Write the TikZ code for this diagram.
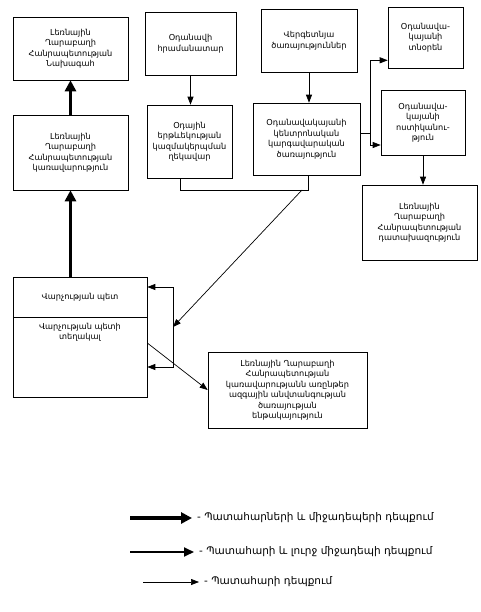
\documentclass[tikz,border=0pt]{standalone}
\usepackage{fontspec}
\setmainfont[Script=Armenian]{DejaVu Sans}
\usetikzlibrary{arrows.meta}

\tikzset{
    box/.style={draw, line width=0.6pt, align=center, inner sep=2pt,
        font=\fontsize{8.2}{10.5}\selectfont},
    legendtext/.style={anchor=west, inner sep=0pt, font=\fontsize{10.5}{12}\selectfont},
    thickarrow/.style={line width=3.5pt, -{Triangle[length=11pt,width=11pt]}},
    midarrow/.style={line width=1.8pt, -{Triangle[length=10pt,width=9pt]}},
    thinarrow/.style={line width=0.7pt, -{Triangle[length=8pt,width=6pt]}}
}

\begin{document}
\begin{tikzpicture}[x=1pt, y=-1pt]

    \useasboundingbox (0,0) rectangle (480,612);

    %% Top row

    % President
    \node [box, minimum width=115, minimum height=63] (president) at (70.5,48.5)
        {Լեռնային\\Ղարաբաղի\\Հանրապետության\\Նախագահ};

    % Commander
    \node [box, minimum width=91, minimum height=63] (commander) at (190.5,43.5)
        {Օդանավի\\հրամանատար};

    % Ground services
    \node [box, minimum width=96, minimum height=63] (ground) at (309,40.5)
        {Վերգետնյա\\ծառայություններ};

    % Airport director
    \node [box, minimum width=75, minimum height=61] (director) at (425.5,37.5)
        {Օդանավա-\\կայանի\\տնօրեն};

    %% Second row

    % Government
    \node [box, minimum width=115, minimum height=75] (government) at (70.5,152.5)
        {Լեռնային\\Ղարաբաղի\\Հանրապետության\\կառավարություն};

    % Air traffic
    \node [box, minimum width=85, minimum height=73] (traffic) at (189.5,141.5)
        {Օդային\\երթևեկության\\կազմակերպման\\ղեկավար};

    % Dispatch
    \node [box, minimum width=107, minimum height=72] (dispatch) at (306.5,139)
        {Օդանավակայանի\\կենտրոնական\\կարգավարական\\ծառայություն};

    % Police
    \node [box, minimum width=84, minimum height=65] (police) at (423,122.5)
        {Օդանավա-\\կայանի\\ոստիկանու-\\թյուն};

    % Prosecutor
    \node [box, minimum width=115, minimum height=75] (prosecutor) at (419.5,222.5)
        {Լեռնային\\Ղարաբաղի\\Հանրապետության\\դատախազություն};

    %% Administration

    \node [box, minimum width=134, minimum height=40] (head) at (80,297)
        {Վարչության պետ};
    \node [box, minimum width=134, minimum height=80] (deputy) at (80,357) {};
    \node [box, draw=none, anchor=north] (deputytext) at ([yshift=-4pt]deputy.north)
        {Վարչության պետի\\տեղակալ};

    % Security
    \node [box, minimum width=159, minimum height=76] (security) at (287.5,390)
        {Լեռնային Ղարաբաղի\\Հանրապետության\\կառավարությանն առընթեր\\ազգային անվտանգության\\ծառայության\\ենթակայություն};

    %% Connectors

    \draw [thickarrow] (government.north) -- (president.south);
    \draw [thickarrow] (government.south |- head.north) -- (government.south);

    \draw [thinarrow] (commander.south) -- (commander.south |- traffic.north);
    \draw [thinarrow] (ground.south) -- (ground.south |- dispatch.north);
    \draw [thinarrow] (police.south) -- (police.south |- prosecutor.north);

    % Dispatch to director and police
    \coordinate (bus) at (370,133);
    \draw [line width=0.7pt] (dispatch.east |- bus) -- (bus);
    \draw [thinarrow] (bus) |- ([yshift=8pt]director.south west);
    \draw [thinarrow] (bus) |- ([yshift=-22.5pt]police.west);

    % Down to administration
    \coordinate (fg) at (302,190);
    \coordinate (bracket) at (173,327);
    \draw [line width=0.7pt] ([xshift=-9pt]traffic.south) |- ([xshift=1.5pt]dispatch.south |- fg)
        -- ([xshift=1.5pt]dispatch.south);
    \draw [thinarrow] (fg) -- (bracket);
    \draw [thinarrow] (bracket) |- ([yshift=10pt]head.east);
    \draw [thinarrow] (bracket) |- ([yshift=-10pt]deputy.east);

    \draw [thinarrow] ([yshift=14pt]deputy.east) -- (security.west);

    %% Legend

    \node [legendtext] (legend1) at (197,518) {- Պատահարների և միջադեպերի դեպքում};
    \node [legendtext] (legend2) at (199,552) {- Պատահարի և լուրջ միջադեպի դեպքում};
    \node [legendtext] (legend3) at (204,582) {- Պատահարի դեպքում};

    \coordinate (legendstart1) at (130,518);
    \coordinate (legendstart2) at (130,552);
    \coordinate (legendstart3) at (143,582);
    \draw [thickarrow] (legendstart1) -- ([xshift=-5pt]legend1.west);
    \draw [midarrow] (legendstart2) -- ([xshift=-5pt]legend2.west);
    \draw [thinarrow] (legendstart3) -- ([xshift=-5pt]legend3.west);

\end{tikzpicture}
\end{document}
